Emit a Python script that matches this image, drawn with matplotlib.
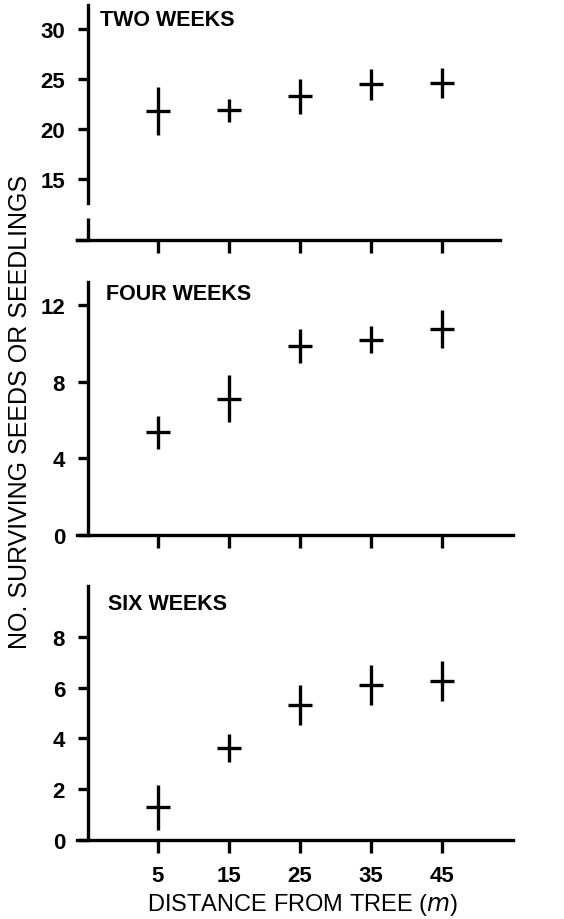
import matplotlib
matplotlib.use('Agg')
from matplotlib import pyplot as plt

plt.rcParams['font.family'] = ['Liberation Sans', 'DejaVu Sans']

# data: mean and +/- error (vertical bar half length)
distance = [5, 15, 25, 35, 45]
two_mean = [21.8, 21.9, 23.3, 24.5, 24.6]
two_err = [2.4, 1.15, 1.75, 1.55, 1.5]
four_mean = [5.35, 7.1, 9.85, 10.2, 10.75]
four_err = [0.87, 1.23, 0.9, 0.73, 1.0]
six_mean = [1.28, 3.62, 5.3, 6.1, 6.26]
six_err = [0.88, 0.56, 0.79, 0.8, 0.77]

titles = ['TWO WEEKS', 'FOUR WEEKS', 'SIX WEEKS']
yticks = [[15, 20, 25, 30], [0, 4, 8, 12], [0, 2, 4, 6, 8]]
ylims = [(8.9, 32.4), (0, 13.2), (0, 10.0)]

W, H = 564, 920
fig = plt.figure(figsize=(W / 100, H / 100), dpi=100)
fig.patch.set_facecolor('white')

# panel boxes in pixels: left, right, top, bottom
boxes = [(77, 500, 6, 241), (77, 513, 283, 536), (77, 513, 587, 841)]
spine_x = -4.86  # data x where the y axis sits
title_pos = [(100, 20), (106, 295), (108, 605)]

lw = 2.4
means = [two_mean, four_mean, six_mean]
errs = [two_err, four_err, six_err]

for i in range(3):
    l, r, t, b = boxes[i]
    ax = fig.add_axes([l / W, 1 - b / H, (r - l) / W, (b - t) / H])
    ax.set_facecolor('none')
    xmax = 5 + (r - 158) / 7.1
    ax.set_xlim(-6.41, xmax)
    ax.set_ylim(*ylims[i])

    ax.errorbar(distance, means[i], yerr=errs[i], fmt='_', color='black',
                ms=17, mew=lw, elinewidth=lw, capsize=0)

    for s in ['top', 'right']:
        ax.spines[s].set_visible(False)
    ax.spines['left'].set_position(('data', spine_x))
    ax.spines['left'].set_linewidth(lw)
    ax.spines['bottom'].set_linewidth(lw)

    ax.set_xticks(distance)
    ax.set_yticks(yticks[i])
    if i == 2:
        ax.set_xticklabels([str(d) for d in distance], fontsize=16,
                           fontweight='bold')
    else:
        ax.set_xticklabels([])
    ax.set_yticklabels([str(v) for v in yticks[i]], fontsize=16,
                       fontweight='bold')
    ax.tick_params(axis='x', direction='out', length=9, width=lw, pad=9)
    ax.tick_params(axis='y', direction='out', length=7.5, width=lw, pad=9)

    if i == 0:
        # broken y axis
        ax.spines['left'].set_bounds(12.6, 32.4)
        ax.plot([spine_x, spine_x], [8.9, 11.1], color='black', lw=lw,
                solid_capstyle='butt', clip_on=False)
        ax.plot([-6.41, spine_x], [8.9, 8.9], color='black', lw=lw,
                clip_on=False)

    tx, ty = title_pos[i]
    fig.text(tx / W, 1 - ty / H, titles[i], fontsize=15.5, fontweight='bold',
             ha='left', va='center')

fig.text(20 / W, 1 - 412 / H, 'NO. SURVIVING SEEDS OR SEEDLINGS',
         rotation=90, fontsize=18, ha='center', va='center')
fig.text(303 / W, 1 - 905 / H, r'DISTANCE FROM TREE ($m$)', fontsize=17,
         ha='center', va='center')

fig.savefig('out.png', dpi=100, facecolor='white')
